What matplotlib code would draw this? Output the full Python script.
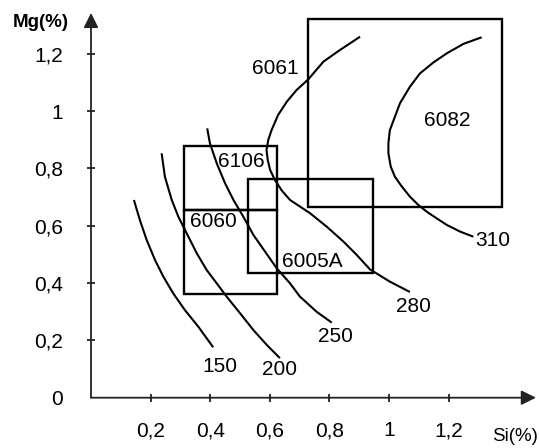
import matplotlib.pyplot as plt
from matplotlib.patches import Rectangle

plt.rcParams['font.family'] = ['Liberation Sans', 'DejaVu Sans']

# curvas de resistencia (Si%, Mg%)
c150_si = [0.144, 0.164, 0.187, 0.215, 0.243, 0.276, 0.315, 0.360, 0.410]
c150_mg = [0.690, 0.620, 0.550, 0.480, 0.422, 0.364, 0.306, 0.248, 0.176]

c200_si = [0.237, 0.248, 0.271, 0.293, 0.321, 0.355, 0.388, 0.422, 0.455,
           0.500, 0.545, 0.590, 0.634]
c200_mg = [0.853, 0.771, 0.690, 0.632, 0.574, 0.504, 0.446, 0.399, 0.353,
           0.295, 0.236, 0.184, 0.138]

c250_si = [0.390, 0.399, 0.422, 0.450, 0.478, 0.511, 0.545, 0.584, 0.623,
           0.668, 0.701, 0.757, 0.808]
c250_mg = [0.940, 0.888, 0.818, 0.748, 0.690, 0.632, 0.568, 0.510, 0.452,
           0.399, 0.353, 0.300, 0.262]

c280_si = [0.903, 0.836, 0.780, 0.729, 0.690, 0.657, 0.628, 0.606, 0.595,
           0.589, 0.593, 0.601, 0.617, 0.641, 0.668, 0.735, 0.791, 0.847,
           0.892, 0.936, 1.003, 1.070]
c280_mg = [1.260, 1.214, 1.173, 1.111, 1.074, 1.033, 0.987, 0.934, 0.900,
           0.865, 0.830, 0.795, 0.760, 0.722, 0.690, 0.644, 0.597, 0.545,
           0.498, 0.448, 0.405, 0.369]

c310_si = [1.311, 1.250, 1.194, 1.149, 1.104, 1.070, 1.037, 1.020, 1.003,
           0.998, 0.998, 1.006, 1.020, 1.043, 1.070, 1.098, 1.127, 1.160,
           1.194, 1.238, 1.283]
c310_mg = [1.258, 1.235, 1.202, 1.170, 1.132, 1.085, 1.028, 0.981, 0.934,
           0.888, 0.853, 0.806, 0.771, 0.737, 0.702, 0.673, 0.649, 0.626,
           0.603, 0.580, 0.562]

curvas = [(c150_si, c150_mg), (c200_si, c200_mg), (c250_si, c250_mg),
          (c280_si, c280_mg), (c310_si, c310_mg)]

etiquetas_curva = ['150', '200', '250', '280', '310']
etiq_x = [0.433, 0.634, 0.819, 1.081, 1.349]
etiq_y = [0.108, 0.097, 0.213, 0.317, 0.550]

# aleaciones: (si_min, si_max, mg_min, mg_max)
aleaciones = ['6060', '6106', '6005A', '6082']
si_min = [0.312, 0.312, 0.526, 0.729]
si_max = [0.625, 0.625, 0.945, 1.378]
mg_min = [0.362, 0.655, 0.436, 0.664]
mg_max = [0.655, 0.880, 0.763, 1.321]

nombres = ['6060', '6106', '6005A', '6082', '6061']
nom_x = [0.410, 0.506, 0.741, 1.194, 0.617]
nom_y = [0.614, 0.824, 0.475, 0.969, 1.150]

ticks_x = [0.2, 0.4, 0.6, 0.8, 1.0, 1.2]
labels_x = ['0,2', '0,4', '0,6', '0,8', '1', '1,2']
ticks_y = [0, 0.2, 0.4, 0.6, 0.8, 1.0, 1.2]
labels_y = ['0', '0,2', '0,4', '0,6', '0,8', '1', '1,2']

fig = plt.figure(figsize=(5.39, 4.48), dpi=100)
ax = fig.add_axes([0, 0, 1, 1])
ax.set_xlim(-0.3054, 1.5034)
ax.set_ylim(-0.1756, 1.3881)

for si, mg in curvas:
    ax.plot(si, mg, color='black', lw=1.5, solid_capstyle='butt',
            solid_joinstyle='round')

for i in range(len(aleaciones)):
    ax.add_patch(Rectangle((si_min[i], mg_min[i]), si_max[i] - si_min[i],
                           mg_max[i] - mg_min[i], fill=False,
                           edgecolor='black', lw=1.7))

for t, x, y in zip(etiquetas_curva, etiq_x, etiq_y):
    ax.text(x, y, t, fontsize=15, ha='center', va='center')
for t, x, y in zip(nombres, nom_x, nom_y):
    ax.text(x, y, t, fontsize=15, ha='center', va='center')

# ejes con flechas
ax.annotate('', xy=(1.493, 0), xytext=(0, 0),
            arrowprops=dict(arrowstyle='-|>', color='#222', lw=1.3,
                            mutation_scale=22, shrinkA=0, shrinkB=0))
ax.annotate('', xy=(0, 1.343), xytext=(0, 0),
            arrowprops=dict(arrowstyle='-|>', color='#222', lw=1.3,
                            mutation_scale=22, shrinkA=0, shrinkB=0))

for s in ['top', 'right']:
    ax.spines[s].set_visible(False)
for s in ['left', 'bottom']:
    ax.spines[s].set_position(('data', 0))
    ax.spines[s].set_visible(False)

ax.set_xticks(ticks_x)
ax.set_xticklabels(labels_x)
ax.set_yticks(ticks_y)
ax.set_yticklabels(labels_y)
ax.tick_params(axis='x', direction='inout', length=6, width=1.3,
               color='#222', labelsize=15, pad=14)
ax.tick_params(axis='y', direction='inout', length=6, width=1.3,
               color='#222', labelsize=15, pad=17)
ax.yaxis.get_major_ticks()[0].tick1line.set_visible(False)

ax.text(-0.168, 1.311, 'Mg(%)', fontsize=13.5, fontweight='bold',
        ha='center', va='center')
ax.text(1.423, -0.137, 'Si(%)', fontsize=13.5, ha='center', va='center')

fig.savefig('out.png', dpi=100)
